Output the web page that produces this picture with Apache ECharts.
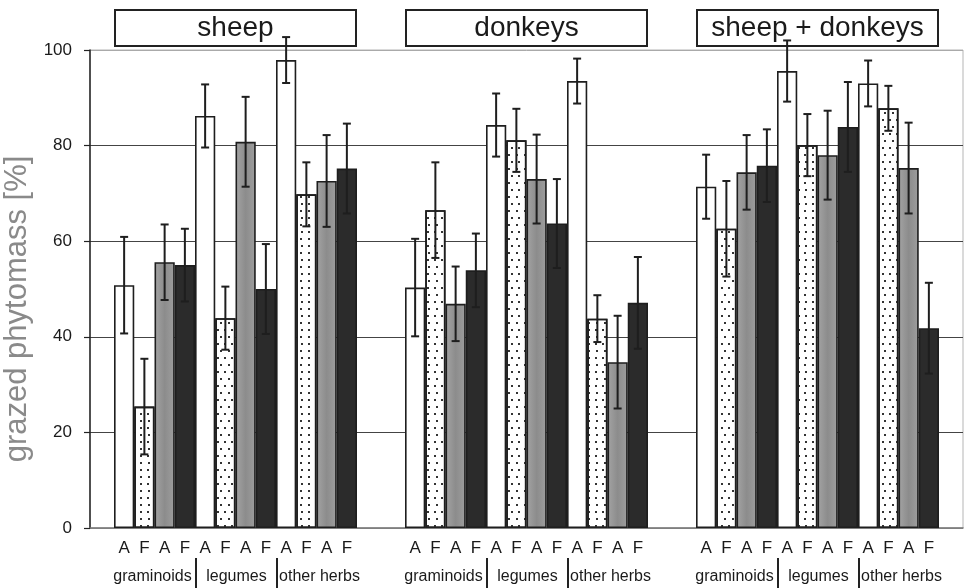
<!DOCTYPE html>
<html lang="en">
<head>
    <meta charset="UTF-8">
    <title>grazed phytomass</title>
    <script src="https://cdnjs.cloudflare.com/ajax/libs/echarts/6.0.0/echarts.min.js"></script>
    <style>
        html, body { margin: 0; padding: 0; background: #fff; }
        #chart { width: 965px; height: 588px; }
    </style>
</head>
<body>
<div id="chart"></div>
<script>
    // panels and bars
    const panels = ['sheep', 'donkeys', 'sheep + donkeys'];
    const barLetters = ['A', 'F', 'A', 'F', 'A', 'F', 'A', 'F', 'A', 'F', 'A', 'F'];
    const plantGroups = ['graminoids', 'legumes', 'other herbs'];

    // mean grazed phytomass [%] and error, per bar
    const sheepMean = [50.8, 25.4, 55.6, 55.0, 86.2, 43.9, 80.8, 50.0, 97.9, 69.8, 72.6, 75.2];
    const sheepErr  = [10.1, 10.0, 7.9, 7.6, 6.6, 6.6, 9.4, 9.4, 4.8, 6.7, 9.6, 9.4];
    const donkeyMean = [50.3, 66.5, 46.9, 53.9, 84.3, 81.1, 73.0, 63.7, 93.5, 43.8, 34.7, 47.1];
    const donkeyErr  = [10.2, 10.0, 7.8, 7.7, 6.6, 6.6, 9.3, 9.3, 4.7, 4.9, 9.7, 9.6];
    const bothMean = [71.4, 62.6, 74.4, 75.8, 95.6, 80.1, 78.0, 83.9, 93.0, 87.8, 75.3, 41.8];
    const bothErr  = [6.7, 10.0, 7.8, 7.6, 6.4, 6.5, 9.3, 9.4, 4.8, 4.7, 9.5, 9.5];

    const yTicks = [0, 20, 40, 60, 80, 100];

    const CAT_GAP = 0.165;
    const FONT = 'Liberation Sans, Arial, Helvetica, sans-serif';

    const means = [sheepMean, donkeyMean, bothMean];
    const errs = [sheepErr, donkeyErr, bothErr];

    // 4 fill styles repeating: white, dotted, grey, black
    function styleFor(i) {
        const k = i % 4;
        const base = { borderColor: '#1e1e1e', borderWidth: 1.6 };
        if (k === 0) return Object.assign(base, { color: '#ffffff' });
        if (k === 1) return Object.assign(base, {
            color: '#ffffff',
            decal: {
                symbol: 'rect', symbolSize: 1, color: '#333',
                dashArrayX: [[1.5, 5], [0, 3.25, 1.5, 1.75]],
                dashArrayY: [1.5, 4.5],
                rotation: 0
            }
        });
        if (k === 2) return Object.assign(base, {
            color: new echarts.graphic.LinearGradient(0, 0, 1, 0, [
                { offset: 0, color: '#a4a4a4' },
                { offset: 0.5, color: '#8c8c8c' },
                { offset: 1, color: '#9e9e9e' }
            ])
        });
        return Object.assign(base, { color: '#2b2b2b' });
    }

    const series = [];
    for (let i = 0; i < 12; i++) {
        series.push({
            type: 'bar',
            name: plantGroups[Math.floor(i / 4)] + ' ' + barLetters[i] + ' ' + (i % 4),
            data: means.map(m => m[i]),
            barGap: '0%',
            barCategoryGap: (CAT_GAP * 100) + '%',
            itemStyle: styleFor(i),
            label: {
                show: true,
                position: 'bottom',
                distance: 12,
                formatter: () => barLetters[i],
                fontSize: 17,
                fontFamily: FONT,
                color: '#1a1a1a'
            },
            emphasis: { disabled: true }
        });
    }

    // error bars
    const errData = [];
    for (let p = 0; p < 3; p++) {
        for (let i = 0; i < 12; i++) {
            errData.push([p, i, means[p][i] - errs[p][i], means[p][i] + errs[p][i]]);
        }
    }
    series.push({
        type: 'custom',
        name: 'error',
        data: errData,
        encode: { x: 0, y: [2, 3] },
        z: 5,
        clip: false,
        renderItem: function (params, api) {
            const band = api.size([1, 0])[0];
            const group = band * (1 - CAT_GAP);
            const bw = group / 12;
            const cx = api.coord([api.value(0), 0])[0] - group / 2 + (api.value(1) + 0.5) * bw;
            const yLow = api.coord([api.value(0), api.value(2)])[1];
            const yHigh = api.coord([api.value(0), api.value(3)])[1];
            const hw = 4;
            const st = { stroke: '#1e1e1e', lineWidth: 2 };
            return {
                type: 'group',
                children: [
                    { type: 'line', shape: { x1: cx, y1: yLow, x2: cx, y2: yHigh }, style: st },
                    { type: 'line', shape: { x1: cx - hw, y1: yLow, x2: cx + hw, y2: yLow }, style: st },
                    { type: 'line', shape: { x1: cx - hw, y1: yHigh, x2: cx + hw, y2: yHigh }, style: st }
                ]
            };
        }
    });

    const groupStyle = { fontSize: 16, fontFamily: FONT, color: '#1a1a1a', verticalAlign: 'middle', padding: [8, 0, 0, 0] };

    const chart = echarts.init(document.getElementById('chart'));
    chart.setOption({
        animation: false,
        grid: {
            left: 90, right: 2, top: 50, bottom: 60,
            outerBoundsMode: 'none',
            containLabel: false,
            show: true, borderColor: '#b5b5b5', borderWidth: 1
        },
        xAxis: [{
            type: 'category',
            data: panels,
            position: 'bottom',
            axisLine: { lineStyle: { color: '#777', width: 1.5 } },
            axisTick: { show: false },
            axisLabel: {
                margin: 30,
                interval: 0,
                formatter: () => '{g1|' + plantGroups[0] + '}{s| }{g2|' + plantGroups[1] + '}{s| }{g3|' + plantGroups[2] + '}',
                rich: {
                    g1: Object.assign({ width: 85, align: 'center' }, groupStyle),
                    g2: Object.assign({ width: 79, align: 'center' }, groupStyle),
                    g3: Object.assign({ width: 83, align: 'center' }, groupStyle),
                    s: { width: 2, height: 30, backgroundColor: '#222', fontSize: 1 }
                }
            }
        }, {
            type: 'category',
            data: panels,
            position: 'top',
            axisLine: { show: false },
            axisTick: { show: false },
            axisLabel: {
                margin: 5,
                interval: 0,
                width: 239,
                height: 34,
                lineHeight: 34,
                align: 'center',
                fontSize: 28,
                fontFamily: FONT,
                color: '#1a1a1a',
                borderColor: '#222',
                borderWidth: 2,
                backgroundColor: '#fff'
            }
        }],
        yAxis: {
            type: 'value',
            min: 0,
            max: 100,
            interval: 20,
            name: 'grazed phytomass [%]',
            nameLocation: 'middle',
            nameGap: 45,
            nameTextStyle: {
                fontSize: 31,
                fontFamily: FONT,
                color: '#8a8a8a',
                padding: [0, 40, 0, 0]
            },
            axisLine: { show: true, lineStyle: { color: '#222', width: 1.5 } },
            axisTick: { show: true, length: 6, lineStyle: { color: '#222', width: 1.2 } },
            axisLabel: {
                margin: 18,
                fontSize: 17,
                fontFamily: FONT,
                color: '#1a1a1a',
                customValues: yTicks
            },
            splitLine: {
                lineStyle: {
                    color: ['#999', '#444', '#444', '#444', '#444', '#aaa'],
                    width: 1
                }
            }
        },
        series: series
    });
</script>
</body>
</html>
